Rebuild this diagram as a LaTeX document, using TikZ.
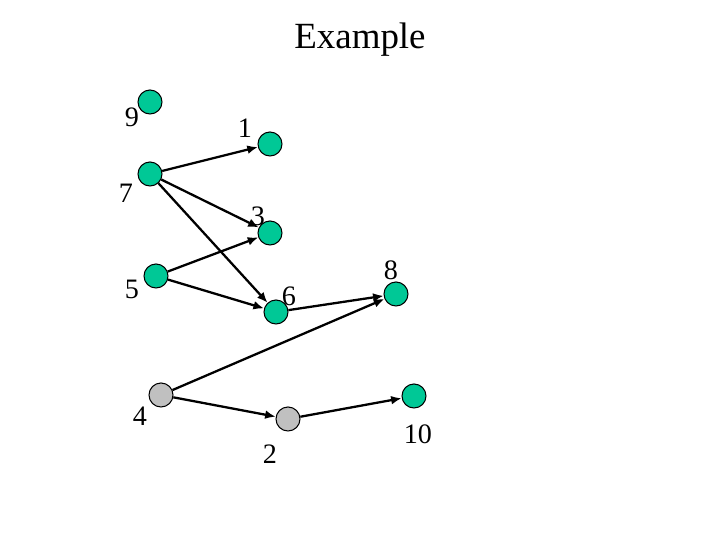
\documentclass[tikz,border=0pt]{standalone}
\usepackage{fontspec}
\setmainfont{Liberation Serif}
\usetikzlibrary{arrows.meta}
\definecolor{vgreen}{RGB}{0,200,150}
\definecolor{vgray}{RGB}{192,192,192}

\begin{document}
\begin{tikzpicture}[x=0.01cm,y=-0.01cm,>={Latex[length=3pt,width=2.5pt]},
  vert/.style={circle,draw=black,line width=0.3pt,fill=vgreen,minimum size=0.24cm,inner sep=0pt},
  vgrey/.style={vert,fill=vgray},
  lab/.style={font=\fontsize{8}{9}\selectfont,inner sep=0pt},
  edge/.style={->,line width=0.65pt}]
  \useasboundingbox (0,0) rectangle (720,540);
  \node[font=\fontsize{10.5}{12}\selectfont] (title) at (360,40){Example};
  % vertices
  \node[vert] (n9) at (150,102){};
  \node[vert] (n1) at (270,144){};
  \node[vert] (n7) at (150,174){};
  \node[vert] (n3) at (270,233){};
  \node[vert] (n5) at (156,276){};
  \node[vert] (n6) at (276,312){};
  \node[vert] (n8) at (396,294){};
  \node[vgrey] (n4) at (161,395){};
  \node[vgrey] (n2) at (288,419){};
  \node[vert] (n10) at (414,396){};
  % labels
  \node[lab] (l9) at (132,117){9};
  \node[lab] (l1) at (245,128){1};
  \node[lab] (l7) at (126,193){7};
  \node[lab] (l3) at (258,216){3};
  \node[lab] (l5) at (132,289){5};
  \node[lab] (l6) at (289,296){6};
  \node[lab] (l8) at (391,270){8};
  \node[lab] (l4) at (140,416){4};
  \node[lab] (l2) at (270,454){2};
  \node[lab] (l10) at (418,434){10};
  % edges
  \draw[edge] (n7)--(n1);
  \draw[edge] (n7)--(n3);
  \draw[edge] (n7)--(n6);
  \draw[edge] (n5)--(n3);
  \draw[edge] (n5)--(n6);
  \draw[edge] (n6)--(n8);
  \draw[edge] (n4)--(n8);
  \draw[edge] (n4)--(n2);
  \draw[edge] (n2)--(n10);
\end{tikzpicture}
\end{document}
